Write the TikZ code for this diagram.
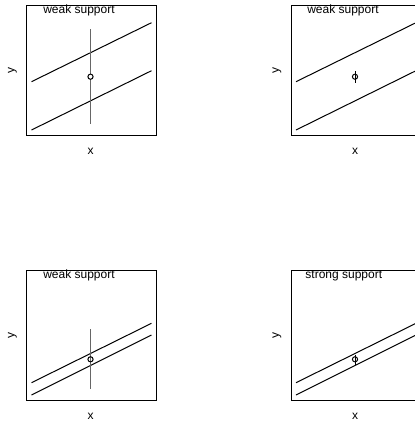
\documentclass[tikz,border=0pt]{standalone}
\usepackage{fontspec}
\setmainfont{Liberation Sans}
\begin{document}
\begin{tikzpicture}[x=1pt,y=-1pt,
  frame/.style={draw=black,line width=1pt},
  fitline/.style={draw=black,line width=1pt},
  wideci/.style={draw=black!60,line width=1.4pt},
  narrowci/.style={draw=black,line width=0.8pt},
  pt/.style={draw=black,line width=1pt},
  lbl/.style={font=\fontsize{12}{14}\selectfont,inner sep=0pt},
  ttl/.style={font=\fontsize{12}{14}\selectfont,inner sep=0pt,anchor=base}]
\useasboundingbox (0,0) rectangle (415,424);
% panel 1
\begin{scope}[shift={(26.5,5)}]
  \draw[frame] (0,0) rectangle (130,130.5);
  \coordinate (a1) at (5,76.7); \coordinate (a2) at (125,17.7);
  \coordinate (b1) at (5,125); \coordinate (b2) at (125,65.7);
  \draw[fitline] (a1) -- (a2); \draw[fitline] (b1) -- (b2);
  \coordinate (c1) at (64,24); \coordinate (c2) at (64,119.3);
  \draw[wideci] (c1) -- (c2);
  \draw[pt,fill=white] (64,71.7) circle (2.6);
  \node[ttl] (t1) at (52.5,8.5) {weak support};
  \node[lbl] (x1) at (64,146.7) {x};
  \node[lbl,rotate=90] (y1) at (-14,65.7) {y};
\end{scope}
% panel 2
\begin{scope}[shift={(291,5)}]
  \draw[frame] (0,0) rectangle (130,130.5);
  \coordinate (d1) at (5,76.7); \coordinate (d2) at (125,17.7);
  \coordinate (e1) at (5,125); \coordinate (e2) at (125,65.7);
  \draw[fitline] (d1) -- (d2); \draw[fitline] (e1) -- (e2);
  \coordinate (f1) at (64,65.9); \coordinate (f2) at (64,77.5);
  \draw[narrowci] (f1) -- (f2);
  \draw[pt] (64,71.7) circle (2.6);
  \node[ttl] (t2) at (52,8.5) {weak support};
  \node[lbl] (x2) at (64,146.7) {x};
  \node[lbl,rotate=90] (y2) at (-14,65.7) {y};
\end{scope}
% panel 3
\begin{scope}[shift={(26.5,270)}]
  \draw[frame] (0,0) rectangle (130,130);
  \coordinate (g1) at (5,112.7); \coordinate (g2) at (125,53.3);
  \coordinate (h1) at (5,125); \coordinate (h2) at (125,65);
  \draw[fitline] (g1) -- (g2); \draw[fitline] (h1) -- (h2);
  \coordinate (k1) at (64,59); \coordinate (k2) at (64,119.3);
  \draw[wideci] (k1) -- (k2);
  \draw[pt] (64,89.3) circle (2.6);
  \node[ttl] (t3) at (52.5,8.5) {weak support};
  \node[lbl] (x3) at (64,146) {x};
  \node[lbl,rotate=90] (y3) at (-14,65) {y};
\end{scope}
% panel 4
\begin{scope}[shift={(291,270)}]
  \draw[frame] (0,0) rectangle (130,130);
  \coordinate (m1) at (5,112.7); \coordinate (m2) at (125,53.3);
  \coordinate (n1) at (5,125); \coordinate (n2) at (125,65);
  \draw[fitline] (m1) -- (m2); \draw[fitline] (n1) -- (n2);
  \coordinate (p1) at (64,84.5); \coordinate (p2) at (64,95);
  \draw[narrowci] (p1) -- (p2);
  \draw[pt] (64,89.3) circle (2.6);
  \node[ttl] (t4) at (52.8,8.5) {strong support};
  \node[lbl] (x4) at (64,146) {x};
  \node[lbl,rotate=90] (y4) at (-14,65) {y};
\end{scope}
\end{tikzpicture}
\end{document}
